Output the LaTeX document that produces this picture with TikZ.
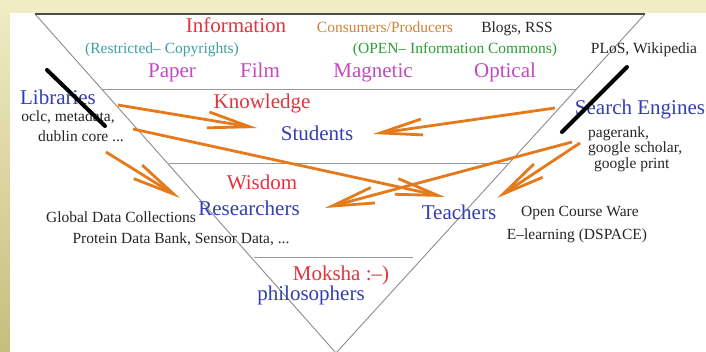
\documentclass[tikz,border=0pt]{standalone}
\usepackage{fontspec}
\setmainfont{Liberation Serif}
\usepackage[usenames,dvipsnames]{xcolor}
\usepackage{tikz}
\usetikzlibrary{arrows.meta,positioning}

\definecolor{levelred}{RGB}{226,52,62}
\definecolor{roleblue}{RGB}{52,62,178}
\definecolor{mediamagenta}{RGB}{196,72,192}
\definecolor{closedteal}{RGB}{62,160,162}
\definecolor{opengreen}{RGB}{44,158,52}
\definecolor{prodorange}{RGB}{206,132,52}
\definecolor{floworange}{RGB}{228,122,28}
\definecolor{slidecream}{RGB}{240,236,196}
\definecolor{slideolive}{RGB}{198,190,126}

\begin{document}
\begin{tikzpicture}[
x=1pt, y=-1pt,
>={Straight Barb[length=42pt,width=16pt]},
level-text/.style = {font=\fontsize{21}{24}\selectfont, text=levelred, inner sep=0pt, anchor=base},
role-text/.style = {font=\fontsize{21}{24}\selectfont, text=roleblue, inner sep=0pt, anchor=base},
media-text/.style = {font=\fontsize{21}{24}\selectfont, text=mediamagenta, inner sep=0pt, anchor=base},
note-text/.style = {font=\fontsize{15.5}{17}\selectfont, text=black!85, inner sep=0pt, anchor=base},
flow/.style = {->, draw=floworange, line width=2.8pt},
strike-line/.style = {line width=4pt, line cap=round},
level-line/.style = {draw=black!40, line width=1pt}
]

% slide background
\useasboundingbox (0,0) rectangle (706,351);
\fill[slidecream] (0,0) rectangle (706,351);
\shade[top color=slidecream, bottom color=slideolive] (0,0) rectangle (10,351);
\fill[white] (10,13) rectangle (706,351);

% the pyramid
\coordinate (top-left) at (35,14);
\coordinate (top-right) at (645,14);
\coordinate (apex) at (336,353);
\draw[black!45, line width=0.9pt] (top-right) -- (apex) -- (top-left);
\draw[black!70, line width=1.6pt] (top-left) -- (top-right);
\draw[level-line] (102,89) -- (576,89);
\draw[level-line] (169,163) -- (509,163);
\draw[level-line] (254,257) -- (413,257);

% top level
\node [level-text] (info) at (236,32) {Information};
\node [note-text, text=prodorange] (consprod) at (385,32) {Consumers/Producers};
\node [note-text] (blogs) at (517,32) {Blogs, RSS};
\node [note-text, text=closedteal] (restricted) at (162,53) {(Restricted-- Copyrights)};
\node [note-text, text=opengreen] (commons) at (455,53) {(OPEN-- Information Commons)};
\node [note-text] (plos) at (644,53) {PLoS, Wikipedia};
\node [media-text] (paper) at (172,77) {Paper};
\node [media-text] (film) at (260,77) {Film};
\node [media-text] (magnetic) at (373,77) {Magnetic};
\node [media-text] (optical) at (505,77) {Optical};

% second level
\node [role-text] (libraries) at (58,104) {Libraries};
\node [note-text] (oclc) at (68,121) {oclc, metadata,};
\node [note-text] (dublin) at (81,141) {dublin core ...};
\node [level-text] (knowledge) at (262,108) {Knowledge};
\node [role-text] (students) at (317,140) {Students};
\node [role-text] (search) at (640,114) {Search Engines};
\node [note-text, anchor=base west] (pagerank) at (588,137) {pagerank,};
\node [note-text, below=1pt of pagerank.south west, anchor=north west] (scholar) {google scholar,};
\node [note-text, below=1pt of scholar.south west, anchor=north west, xshift=6pt] (print) {google print};

% third level
\node [level-text] (wisdom) at (262,189) {Wisdom};
\node [role-text] (researchers) at (249,215) {Researchers};
\node [note-text] (global) at (121,222) {Global Data Collections};
\node [note-text] (protein) at (181,243) {Protein Data Bank, Sensor Data, ...};
\node [role-text] (teachers) at (459,219) {Teachers};
\node [note-text] (ocw) at (580,216) {Open Course Ware};
\node [note-text] (elearn) at (577,239) {E--learning (DSPACE)};

% bottom level
\node [level-text] (moksha) at (341,280) {Moksha :--)};
\node [role-text] (philosophers) at (311,300) {philosophers};

% strikes
\draw[strike-line] (47,70) -- (105,126);
\draw[strike-line] (627,67) -- (562,132);

% arrows
\coordinate (lib-a) at (118,105);
\coordinate (lib-b) at (133,129);
\coordinate (lib-c) at (106,152);
\coordinate (se-a) at (555,108);
\coordinate (se-b) at (572,142);
\coordinate (se-c) at (580,143);
\coordinate (stu-l) at (257,128);
\coordinate (stu-r) at (373,134);
\coordinate (res-r) at (325,208);
\coordinate (tea-l) at (445,197);
\coordinate (tea-r) at (497,198);
\coordinate (glob-t) at (180,198);

\draw[flow] (lib-a) -- (stu-l);
\draw[flow] (lib-b) -- (tea-l);
\draw[flow] (lib-c) -- (glob-t);
\draw[flow] (se-a) -- (stu-r);
\draw[flow] (se-b) -- (res-r);
\draw[flow] (se-c) -- (tea-r);

\end{tikzpicture}
\end{document}
